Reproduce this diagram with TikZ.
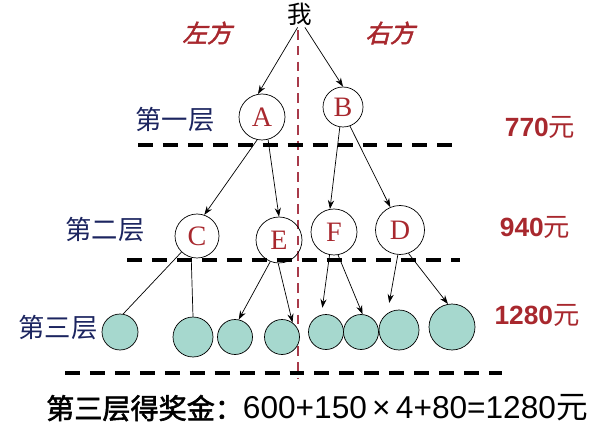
\documentclass[tikz,border=0pt]{standalone}
\usepackage{fontspec}
\setmainfont{Liberation Serif}
\newfontfamily\cjk{Noto Sans CJK SC}
\newfontfamily\cjkslant[FakeSlant=0.25,FakeBold=2]{Noto Sans CJK SC}
\newfontfamily\cjkheavy[FakeBold=2]{Noto Sans CJK SC}
\newfontfamily\numf{Liberation Sans}
\usetikzlibrary{arrows.meta}
\definecolor{lblred}{HTML}{A8282E}
\definecolor{laynavy}{HTML}{1C2560}
\definecolor{ballfill}{HTML}{A6D8CE}
\definecolor{axisred}{HTML}{A83A4A}
\begin{document}
\begin{tikzpicture}[x=0.02cm,y=-0.02cm,>={Stealth[length=5pt,width=3.5pt]},
  ring/.style={circle,draw,inner sep=0pt,font=\fontsize{16}{16}\selectfont,text=lblred},
  ball/.style={circle,draw,fill=ballfill,inner sep=0pt},
  layer/.style={font=\cjk\fontsize{15}{15}\selectfont,text=laynavy},
  prize/.style={text=lblred,font=\numf\bfseries\fontsize{15}{15}\selectfont},
  side/.style={text=lblred,font=\cjkslant\fontsize{14}{14}\selectfont},
  floor/.style={line width=2.2pt,dash pattern=on 8.5pt off 5.7pt}]
\useasboundingbox (0,0) rectangle (597,428);
\draw[axisred,line width=1.5pt,dash pattern=on 5.5pt off 3.5pt] (298,30)--(298,378);
\node[font=\cjk\fontsize{14}{14}\selectfont,inner sep=1pt] (wo) at (300,14){我};
\node[side] (zuo) at (207,33){左方};
\node[side] (you) at (390,33){右方};
\node[ring,minimum size=0.92cm] (A) at (262,117){A};
\node[ring,minimum size=0.80cm] (B) at (343,107){B};
\node[ring,minimum size=0.88cm] (C) at (197,236){C};
\node[ring,minimum size=0.92cm] (E) at (279,240){E};
\node[ring,minimum size=0.92cm] (F) at (334,232){F};
\node[ring,minimum size=0.98cm] (D) at (400,230){D};
\node[ball,minimum size=0.72cm] (b1) at (120,332){};
\node[ball,minimum size=0.80cm] (b2) at (193,337){};
\node[ball,minimum size=0.70cm] (b3) at (235,337){};
\node[ball,minimum size=0.70cm] (b4) at (282,337){};
\node[ball,minimum size=0.70cm] (b5) at (326,332){};
\node[ball,minimum size=0.70cm] (b6) at (361,332){};
\node[ball,minimum size=0.80cm] (b7) at (399,330){};
\node[ball,minimum size=0.92cm] (b8) at (452,327){};
\draw[floor] (138,145)--(455,145);
\draw[floor] (127,260)--(460,260);
\draw[floor] (65,373)--(502,373);
\node[layer] (l1) at (175,120){第一层};
\node[layer] (l2) at (105,230){第二层};
\node[layer] (l3) at (58,328){第三层};
\node[prize] (p1) at (540,127){770{\cjk\mdseries 元}};
\node[prize] (p2) at (535,227){940{\cjk\mdseries 元}};
\node[prize] (p3) at (537,315){1280{\cjk\mdseries 元}};
\draw[->] (wo.-100)--(A.100);
\draw[->] (wo.-70)--(B.north);
\draw[->] (A.-102)--(C.71);
\draw[->] (A.-75)--(E.north);
\draw[->] (B.-99)--(F.100);
\draw[->] (B.-70)--(D.113);
\draw (C.-134)--(b1.80);
\draw (C.-105)--(b2.north);
\draw[->] (E.-112)--(b3.78);
\draw[->] (E.-92)--(b4.54);
\draw[->,shorten >=4pt] (F.-101)--(b5.105);
\draw[->] (F.-80)--(b6.85);
\draw[->,shorten >=6pt] (D.-95)--(b7.125);
\draw[->] (D.-70)--(b8.100);
\node[anchor=west] (sum) at (40,408){{\cjkheavy\fontsize{16}{16}\selectfont 第三层得奖金：}{\numf\fontsize{18}{18}\selectfont 600+150\,×\,4+80=1280}{\cjk\fontsize{18}{18}\selectfont 元}};
\end{tikzpicture}
\end{document}
